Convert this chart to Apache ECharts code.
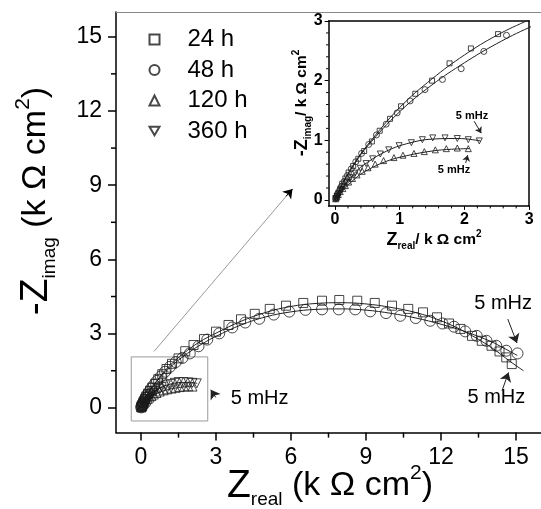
<!DOCTYPE html>
<html>
<head>
<meta charset="utf-8">
<script src="https://cdn.jsdelivr.net/npm/echarts@6/dist/echarts.min.js"></script>
<style>
  html, body { margin: 0; padding: 0; background: #fff; }
  #main { width: 541px; height: 509px; }
</style>
</head>
<body>
<div id="main"></div>
<script>
// 阻抗数据 [Zreal, -Zimag], 单位 k Ω cm²
const data24h = [[0.01,0.03],[0.03,0.07],[0.05,0.12],[0.08,0.19],[0.11,0.27],[0.16,0.36],[0.21,0.46],[0.28,0.57],[0.36,0.69],[0.45,0.82],[0.57,0.98],[0.69,1.16],[0.85,1.36],[1.02,1.57],[1.24,1.78],[1.5,2.0],[1.77,2.29],[2.1,2.54],[2.52,2.78],[3.0,3.08],[3.5,3.35],[4.0,3.58],[4.55,3.8],[5.15,4.0],[5.8,4.13],[6.49,4.24],[7.24,4.33],[7.93,4.36],[8.65,4.33],[9.35,4.24],[10.04,4.13],[10.69,4.0],[11.28,3.86],[11.84,3.66],[12.32,3.41],[12.78,3.19],[13.24,2.91],[13.63,2.71],[14.02,2.51],[14.34,2.28],[14.61,2.04],[14.83,1.77]]
const data48h = [[0.01,0.02],[0.02,0.05],[0.04,0.1],[0.07,0.16],[0.1,0.23],[0.14,0.31],[0.19,0.41],[0.25,0.52],[0.32,0.64],[0.41,0.78],[0.52,0.93],[0.64,1.09],[0.79,1.27],[0.96,1.46],[1.16,1.66],[1.39,1.85],[1.66,2.02],[1.95,2.2],[2.3,2.49],[2.65,2.76],[3.13,3.01],[3.65,3.25],[4.17,3.45],[4.73,3.6],[5.31,3.77],[5.93,3.89],[6.58,3.96],[7.24,3.98],[7.91,3.98],[8.57,3.98],[9.17,3.9],[9.8,3.83],[10.37,3.72],[10.99,3.63],[11.57,3.52],[12.06,3.41],[12.52,3.28],[12.97,3.09],[13.43,2.91],[13.82,2.71],[14.21,2.51],[14.61,2.31],[15.06,2.2]]
const data120h = [[0.01,0.02],[0.03,0.05],[0.05,0.09],[0.08,0.14],[0.12,0.19],[0.16,0.24],[0.21,0.3],[0.27,0.36],[0.34,0.42],[0.42,0.48],[0.51,0.54],[0.62,0.6],[0.75,0.66],[0.91,0.71],[1.05,0.75],[1.22,0.78],[1.38,0.81],[1.55,0.84],[1.72,0.86],[1.89,0.87],[2.06,0.86]]
const data360h = [[0.01,0.02],[0.03,0.06],[0.06,0.1],[0.09,0.16],[0.13,0.22],[0.18,0.29],[0.24,0.37],[0.31,0.45],[0.39,0.53],[0.48,0.61],[0.58,0.69],[0.7,0.77],[0.83,0.84],[0.99,0.91],[1.18,0.96],[1.35,1.01],[1.51,1.04],[1.7,1.04],[1.89,1.03],[2.06,1.01],[2.23,0.99]]

// 拟合曲线
const fit24h = [[0,0],[0.1,0.25],[0.3,0.62],[0.5,0.92],[1,1.55],[1.5,2.03],[2,2.43],[2.5,2.76],[3,3.02],[4,3.5],[5,3.86],[6,4.1],[7,4.22],[8,4.25],[9,4.2],[10,4.06],[11,3.85],[12,3.52],[13,3.05],[14,2.45],[14.8,1.85],[15.3,1.5]]
const fit48h = [[0,0],[0.1,0.24],[0.3,0.6],[0.5,0.9],[1,1.48],[1.5,1.93],[2,2.3],[2.5,2.62],[3,2.89],[4,3.35],[5,3.68],[6,3.88],[7,3.98],[8,4.0],[9,3.95],[10,3.82],[11,3.63],[12,3.38],[13,3.07],[14,2.68],[14.5,2.42],[15.05,2.12]]
const fit120h = [[0,0],[0.1,0.13],[0.3,0.35],[0.5,0.5],[0.8,0.65],[1.1,0.74],[1.5,0.82],[1.8,0.85],[2.08,0.86]]
const fit360h = [[0,0],[0.1,0.17],[0.3,0.45],[0.5,0.63],[0.8,0.82],[1.1,0.94],[1.5,1.02],[1.9,1.03],[2.25,0.99]]

const seriesNames = ['24 h', '48 h', '120 h', '360 h']
const mainTicks = [0, 3, 6, 9, 12, 15]
const mainMinorTicks = [1.5, 4.5, 7.5, 10.5, 13.5]
const insetTicks = [0, 1, 2, 3]
const insetMinorTicks = [0.2, 0.4, 0.6, 0.8, 1.2, 1.4, 1.6, 1.8, 2.2, 2.4, 2.6, 2.8]

const chart = echarts.init(document.getElementById('main'))
const FONT = 'Liberation Sans, Arial, sans-serif'
const INK = '#1a1a1a'
const DOWN_TRIANGLE = 'path://M0,0L10,0L5,8.66Z'
const MAIN_MIN = -1
const INSET_MIN = -0.1

// 符号样式
const symbols = [
  { symbol: 'rect', rotate: 0, main: 9, inset: 5 },
  { symbol: 'circle', rotate: 0, main: 11, inset: 6 },
  { symbol: 'triangle', rotate: 0, main: 9, inset: 6 },
  { symbol: 'triangle', rotate: 180, main: 9, inset: 6 },
]
const allData = [data24h, data48h, data120h, data360h]
const allFits = [fit24h, fit48h, fit120h, fit360h]

// 坐标轴的生成
function valueAxis(gridIndex, min, max, opts) {
  return Object.assign({
    type: 'value',
    gridIndex: gridIndex,
    min: min,
    max: max,
    splitLine: { show: false },
    axisLine: { show: true, onZero: false, lineStyle: { color: '#000', width: 1.5 } },
    axisTick: { show: false },
    axisLabel: { show: false },
  }, opts)
}

const mainLabel = { show: true, customValues: mainTicks, color: '#000', fontFamily: FONT, fontSize: 23 }
const insetLabel = { show: true, customValues: insetTicks, color: '#000', fontFamily: FONT, fontSize: 16, fontWeight: 'bold' }

// 网格 0: 主图, 1: 插图
const xAxes = [
  valueAxis(0, MAIN_MIN, 16, { position: 'bottom', axisTick: { show: true, customValues: mainTicks, length: 8, lineStyle: { width: 1.5 } }, axisLabel: Object.assign({ margin: 14 }, mainLabel) }),
  valueAxis(0, MAIN_MIN, 16, { position: 'top', axisLine: { show: true, onZero: false, lineStyle: { color: '#888', width: 1 } } }),
  valueAxis(1, INSET_MIN, 3, { position: 'bottom', axisTick: { show: true, customValues: insetTicks, length: 4 }, axisLabel: Object.assign({ margin: 6 }, insetLabel) }),
  valueAxis(1, INSET_MIN, 3, { position: 'top' }),
]
const yAxes = [
  valueAxis(0, MAIN_MIN, 16, { position: 'left', axisTick: { show: true, customValues: mainTicks, length: 8, lineStyle: { width: 1.5 } }, axisLabel: Object.assign({ margin: 14 }, mainLabel) }),
  valueAxis(1, INSET_MIN, 3, { position: 'left', axisTick: { show: true, customValues: insetTicks, length: 4 }, axisLabel: Object.assign({ margin: 6 }, insetLabel) }),
  valueAxis(1, INSET_MIN, 3, { position: 'right' }),
]

// 次刻度: 用 custom 系列在坐标轴外侧画短线
function minorTicks(xIdx, yIdx, values, axisMin, dir, len, width) {
  return {
    type: 'custom',
    xAxisIndex: xIdx,
    yAxisIndex: yIdx,
    clip: false,
    silent: true,
    z: 5,
    data: values.map((v) => (dir === 'x' ? [v, axisMin] : [axisMin, v])),
    renderItem: (params, api) => {
      const p = api.coord([api.value(0), api.value(1)])
      const end = dir === 'x' ? [p[0], p[1] + len] : [p[0] - len, p[1]]
      return {
        type: 'line',
        shape: { x1: p[0], y1: p[1], x2: end[0], y2: end[1] },
        style: { stroke: '#000', lineWidth: width },
      }
    },
  }
}

// 5 mHz 的箭头和文字
function arrow(x1, y1, x2, y2, color) {
  return [{ coord: [x1, y1], lineStyle: { color: color || '#222' } }, { coord: [x2, y2] }]
}
function note(x, y, size, bold) {
  return {
    coord: [x, y],
    symbol: 'rect',
    symbolSize: 1,
    itemStyle: { color: 'rgba(0,0,0,0)' },
    label: { show: true, position: 'right', distance: 0, formatter: '5 mHz', color: '#000', fontFamily: FONT, fontSize: size, fontWeight: bold ? 'bold' : 'normal' },
  }
}

const series = []
allData.forEach((data, i) => {
  const s = symbols[i]
  // 主图的散点
  series.push({
    name: seriesNames[i],
    type: 'scatter',
    xAxisIndex: 0,
    yAxisIndex: 0,
    data: data,
    symbol: s.symbol,
    symbolRotate: s.rotate,
    symbolSize: s.main,
    itemStyle: { color: 'rgba(255,255,255,0)', borderColor: INK, borderWidth: 1 },
    z: 3,
  })
  // 插图的散点
  series.push({
    name: seriesNames[i],
    type: 'scatter',
    xAxisIndex: 2,
    yAxisIndex: 1,
    data: data,
    symbol: s.symbol,
    symbolRotate: s.rotate,
    symbolSize: s.inset,
    itemStyle: { color: 'rgba(255,255,255,0)', borderColor: INK, borderWidth: 1 },
    clip: true,
    z: 3,
  })
  // 拟合曲线
  series.push({
    type: 'line',
    xAxisIndex: 0,
    yAxisIndex: 0,
    data: allFits[i],
    smooth: 0.4,
    showSymbol: false,
    lineStyle: { color: '#222', width: 1 },
    silent: true,
  })
  series.push({
    type: 'line',
    xAxisIndex: 2,
    yAxisIndex: 1,
    data: allFits[i],
    smooth: 0.4,
    showSymbol: false,
    clip: true,
    lineStyle: { color: '#222', width: 1 },
    silent: true,
  })
})

series.push(
  minorTicks(0, 0, mainMinorTicks, MAIN_MIN, 'x', 5, 1.5),
  minorTicks(0, 0, mainMinorTicks, MAIN_MIN, 'y', 5, 1.5),
  minorTicks(2, 1, insetMinorTicks, INSET_MIN, 'x', 2.5, 1),
  minorTicks(2, 1, insetMinorTicks, INSET_MIN, 'y', 2.5, 1)
)

// 主图上的标注: 放大区域、指向插图的箭头、5 mHz
series.push({
  type: 'line',
  xAxisIndex: 0,
  yAxisIndex: 0,
  data: [],
  silent: true,
  markArea: {
    silent: true,
    itemStyle: { color: 'rgba(0,0,0,0)', borderColor: '#999', borderWidth: 1 },
    data: [[{ coord: [-0.39, 2.06] }, { coord: [2.67, -0.53] }]],
  },
  markLine: {
    silent: true,
    symbol: ['none', 'arrow'],
    symbolSize: 9,
    label: { show: false },
    lineStyle: { width: 1, type: 'solid' },
    data: [
      [{ coord: [0.52, 2.28], symbol: 'none', lineStyle: { color: '#999' } }, { coord: [6.0, 8.78], symbol: 'none' }],
      arrow(5.8, 8.55, 6.06, 8.85, '#000'),
      arrow(14.67, 3.59, 15.04, 2.62),
      arrow(14.44, 0.69, 14.7, 1.43),
      arrow(2.99, 0.42, 2.79, 0.73),
    ],
  },
  markPoint: {
    silent: true,
    data: [note(13.31, 4.21, 20), note(13.04, 0.42, 20), note(3.57, 0.36, 20)],
  },
})
// 插图上的标注
series.push({
  type: 'line',
  xAxisIndex: 2,
  yAxisIndex: 1,
  data: [],
  silent: true,
  markLine: {
    silent: true,
    symbol: ['none', 'arrow'],
    symbolSize: 6,
    label: { show: false },
    lineStyle: { width: 1, type: 'solid' },
    data: [arrow(2.15, 1.32, 2.26, 1.12), arrow(2.02, 0.62, 2.05, 0.75)],
  },
  markPoint: {
    silent: true,
    data: [note(1.86, 1.41, 11, true), note(1.58, 0.5, 11, true)],
  },
})

// 轴标题的富文本样式
function titleRich(big, sub, mid, sup, bold) {
  const w = bold ? 'bold' : 'normal'
  return {
    a: { fontFamily: FONT, fontWeight: w, fontSize: big, lineHeight: big * 1.2, verticalAlign: 'middle' },
    b: { fontFamily: FONT, fontWeight: w, fontSize: sub, lineHeight: sub * 0.7, verticalAlign: 'bottom' },
    c: { fontFamily: FONT, fontWeight: w, fontSize: mid, lineHeight: big * 1.2, verticalAlign: 'middle' },
    d: { fontFamily: FONT, fontWeight: w, fontSize: sup, lineHeight: sup * 1.25, verticalAlign: 'top' },
  }
}

const option = {
  backgroundColor: '#fff',
  animation: false,
  grid: [
    { left: 116, top: 12, width: 434, height: 420.6 },
    { left: 328.6, top: 21, width: 200.5, height: 184.9 },
  ],
  xAxis: xAxes,
  yAxis: yAxes,
  legend: {
    orient: 'vertical',
    left: 143.5,
    top: 22.5,
    itemWidth: 10,
    itemHeight: 10,
    itemGap: 6.5,
    data: [
      { name: '24 h' },
      { name: '48 h' },
      { name: '120 h' },
      { name: '360 h', icon: DOWN_TRIANGLE },
    ],
    textStyle: { fontFamily: FONT, fontSize: 24, color: '#000', lineHeight: 23, padding: [0, 0, 0, 23] },
  },
  graphic: [
    // 纵轴标题
    {
      type: 'text',
      x: 36,
      y: 201,
      rotation: Math.PI / 2,
      style: {
        text: '{a|-Z}{b|imag}{c| (k Ω cm}{d|2}{c|)}',
        align: 'center',
        verticalAlign: 'middle',
        fill: '#000',
        rich: titleRich(39, 19, 34, 21, false),
      },
    },
    // 横轴标题
    {
      type: 'text',
      x: 330,
      y: 486,
      style: {
        text: '{a|Z}{b|real}{c| (k Ω cm}{d|2}{c|)}',
        align: 'center',
        verticalAlign: 'middle',
        fill: '#000',
        rich: titleRich(39, 19, 34, 21, false),
      },
    },
    // 插图纵轴标题
    {
      type: 'text',
      x: 302,
      y: 103,
      rotation: Math.PI / 2,
      style: {
        text: '{a|-Z}{b|imag}{c|/ k Ω cm}{d|2}',
        align: 'center',
        verticalAlign: 'middle',
        fill: '#000',
        rich: titleRich(18, 10, 15.5, 10, true),
      },
    },
    // 插图横轴标题
    {
      type: 'text',
      x: 434,
      y: 240,
      style: {
        text: '{a|Z}{b|real}{c|/ k Ω cm}{d|2}',
        align: 'center',
        verticalAlign: 'middle',
        fill: '#000',
        rich: titleRich(18, 10, 15.5, 10, true),
      },
    },
  ],
  series: series,
}
chart.setOption(option)
</script>
</body>
</html>
